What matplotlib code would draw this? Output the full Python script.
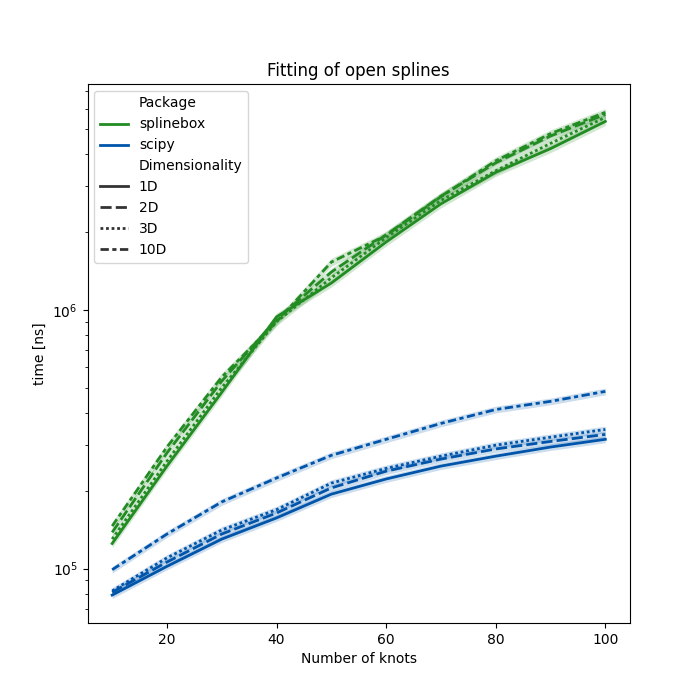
"""
Fitting time of open splines: splinebox vs scipy for several dimensionalities.
"""

import matplotlib

matplotlib.use("Agg")
import matplotlib.pyplot as plt
import numpy as np
from matplotlib.lines import Line2D

knots = [10, 20, 30, 40, 50, 60, 70, 80, 90, 100]
dims = ["1D", "2D", "3D", "10D"]

# mean fitting time in ns
splinebox_times = {
    "1D": [1.25e5, 2.49e5, 4.8e5, 9.4e5, 1.27e6, 1.83e6, 2.57e6, 3.4e6, 4.2e6, 5.35e6],
    "2D": [1.38e5, 2.8e5, 5.3e5, 9.2e5, 1.40e6, 1.95e6, 2.75e6, 3.7e6, 4.7e6, 5.7e6],
    "3D": [1.30e5, 2.6e5, 5.0e5, 9.0e5, 1.33e6, 1.90e6, 2.65e6, 3.45e6, 4.4e6, 5.55e6],
    "10D": [1.46e5, 2.95e5, 5.5e5, 9.0e5, 1.53e6, 1.94e6, 2.74e6, 3.77e6, 4.8e6, 5.8e6],
}
scipy_times = {
    "1D": [7.9e4, 1.02e5, 1.30e5, 1.57e5, 1.94e5, 2.22e5, 2.49e5, 2.72e5, 2.95e5, 3.16e5],
    "2D": [8.1e4, 1.06e5, 1.36e5, 1.64e5, 2.05e5, 2.38e5, 2.65e5, 2.90e5, 3.10e5, 3.30e5],
    "3D": [8.2e4, 1.10e5, 1.41e5, 1.69e5, 2.14e5, 2.44e5, 2.72e5, 3.00e5, 3.22e5, 3.45e5],
    "10D": [9.9e4, 1.36e5, 1.81e5, 2.24e5, 2.74e5, 3.16e5, 3.64e5, 4.12e5, 4.43e5, 4.84e5],
}
# relative half width of the confidence band
band = {"splinebox": 0.035, "scipy": 0.03}

colors = {"splinebox": "#228B22", "scipy": "#0055AA"}
dashes = {"1D": "", "2D": (4, 1.5), "3D": (1, 1), "10D": (3, 1.25, 1.5, 1.25)}

fig, ax = plt.subplots(figsize=(7, 7), dpi=100)

for package, times in [("splinebox", splinebox_times), ("scipy", scipy_times)]:
    for dim in dims:
        y = np.array(times[dim])
        ax.fill_between(knots, y * (1 - band[package]), y * (1 + band[package]),
                        color=colors[package], alpha=0.2, linewidth=0)
        line, = ax.plot(knots, y, color=colors[package], linewidth=2)
        if dashes[dim]:
            line.set_dashes(dashes[dim])

ax.set_yscale("log")
ax.set_title("Fitting of open splines")
ax.set_xlabel("Number of knots")
ax.set_ylabel("time [ns]")

handles = [Line2D([], [], linestyle="")]
labels = ["Package"]
for package in ["splinebox", "scipy"]:
    handles.append(Line2D([], [], color=colors[package], linewidth=2))
    labels.append(package)
handles.append(Line2D([], [], linestyle=""))
labels.append("Dimensionality")
for dim in dims:
    h = Line2D([], [], color=".2", linewidth=2)
    if dashes[dim]:
        h.set_dashes(dashes[dim])
    handles.append(h)
    labels.append(dim)
ax.legend(handles, labels, loc="upper left")

plt.savefig("out.png")
plt.close()
